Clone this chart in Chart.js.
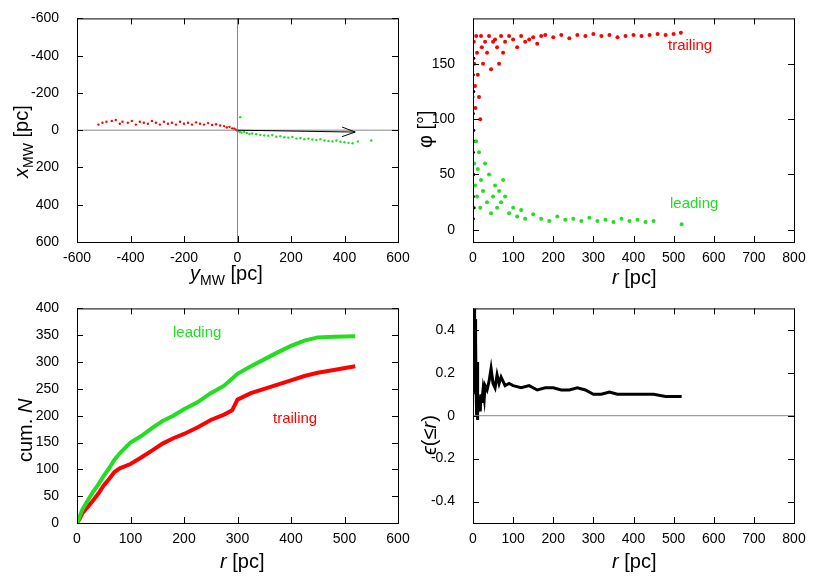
<!DOCTYPE html>
<html><head><meta charset="utf-8">
<script src="https://cdn.jsdelivr.net/npm/chart.js@4/dist/chart.umd.min.js"></script>
<style>
body{margin:0;background:#fff;width:830px;height:581px;position:relative;overflow:hidden;font-family:'Liberation Sans',Arial,sans-serif}
canvas{position:absolute}
.t{position:absolute;font-size:20px;color:#000;white-space:nowrap}
.l{position:absolute;font-size:15px;white-space:nowrap}
.rot{transform:rotate(-90deg);transform-origin:left top}
</style></head><body>
<canvas id="c1" style="left:0;top:0;width:415px;height:290px"></canvas>
<canvas id="c2" style="left:415px;top:0;width:415px;height:290px"></canvas>
<canvas id="c3" style="left:0;top:290px;width:415px;height:291px"></canvas>
<canvas id="c4" style="left:415px;top:290px;width:415px;height:291px"></canvas>
<div class="t" style="left:190px;top:262px"><i>y</i><sub style="font-size:14px">MW</sub> [pc]</div>
<div class="t rot" style="left:10px;top:178px"><i>x</i><sub style="font-size:14px">MW</sub> [pc]</div>
<div class="t" style="left:612px;top:266px"><i>r</i> [pc]</div>
<div class="t rot" style="left:414px;top:148px">φ [°]</div>
<div class="t" style="left:220px;top:550px"><i>r</i> [pc]</div>
<div class="t rot" style="left:14px;top:462px">cum. <i>N</i></div>
<div class="t" style="left:612px;top:550px"><i>r</i> [pc]</div>
<div class="t rot" style="left:418px;top:455px"><i>ϵ</i>(≤<i>r</i>)</div>
<div class="l" style="left:668px;top:36px;color:#ff0000">trailing</div>
<div class="l" style="left:670px;top:194px;color:#22dd22">leading</div>
<div class="l" style="left:173px;top:323px;color:#22dd22">leading</div>
<div class="l" style="left:273px;top:409px;color:#ff0000">trailing</div>
<script>
const RED = '#ff0000', GREEN = '#22dd22', BLACK = '#000000';

// panel 1: x_MW vs y_MW [y_MW, x_MW]
const posTrailing = [[-520,-30],[-505,-40],[-490,-45],[-470,-50],[-455,-55],[-440,-35],[-430,-45],[-410,-40],[-395,-50],[-380,-30],[-365,-45],[-350,-40],[-335,-35],[-320,-50],[-305,-40],[-290,-30],[-275,-45],[-260,-35],[-245,-40],[-230,-30],[-215,-45],[-200,-35],[-185,-40],[-170,-30],[-155,-42],[-140,-35],[-125,-30],[-110,-38],[-95,-28],[-80,-32],[-65,-25],[-50,-22],[-40,-15],[-30,-18],[-20,-10],[-12,-8],[-6,-3],[-3,0]];
const posLeading = [[2,5],[8,10],[15,12],[25,8],[35,15],[45,20],[55,18],[70,22],[85,25],[100,28],[115,30],[130,26],[145,35],[160,32],[175,38],[190,40],[205,36],[220,45],[235,42],[250,48],[265,45],[280,50],[295,52],[310,48],[325,55],[340,58],[355,60],[370,55],[385,62],[400,65],[415,68],[430,70],[450,60],[500,55],[10,-70]];
const arrowEnd = [440, 10];

// panel 2: phi vs r
const phiTrailing = [[2,170],[3,150],[5,130],[6,110],[8,175],[10,160],[12,140],[15,120],[18,100],[20,175],[22,165],[25,150],[30,170],[35,160],[40,175],[45,145],[50,170],[55,172],[60,165],[65,150],[70,175],[75,160],[80,170],[90,175],[100,172],[110,165],[120,175],[130,170],[140,172],[150,174],[160,168],[170,175],[180,176],[200,174],[220,176],[240,173],[260,176],[280,175],[300,177],[320,175],[340,176],[360,174],[380,175],[400,176],[420,175],[440,176],[460,177],[480,176],[500,177],[518,178]];
const phiLeading = [[3,60],[5,40],[8,80],[10,30],[12,55],[15,70],[18,20],[20,45],[25,35],[30,60],[35,25],[40,50],[45,15],[50,30],[55,40],[60,20],[65,35],[70,25],[75,45],[80,30],[90,15],[100,20],[110,12],[120,18],[130,10],[150,14],[170,10],[190,8],[210,12],[230,9],[250,10],[270,8],[290,11],[310,8],[330,9],[350,7],[370,10],[390,8],[410,9],[430,7],[450,8],[520,5]];
const phiCore = [[1,10],[1,30],[2,50],[1,70],[2,90],[1,105],[2,125],[1,140],[2,155],[3,20],[3,80],[0,60],[0,120],[4,40]];

// panel 3: cumulative counts
const cumLeading = [[0,0],[5,12],[10,25],[20,42],[30,58],[40,72],[50,88],[60,102],[70,118],[80,130],[90,140],[100,150],[120,162],[140,177],[160,190],[180,200],[200,212],[225,225],[250,242],[275,256],[300,278],[325,292],[350,305],[375,318],[400,330],[425,340],[450,346],[480,347],[520,348]];
const cumTrailing = [[0,0],[5,8],[10,18],[20,30],[30,42],[40,55],[50,70],[60,82],[70,95],[80,102],[100,110],[120,122],[140,135],[160,148],[180,158],[200,166],[225,178],[250,192],[275,202],[290,210],[300,230],[325,242],[350,250],[375,258],[400,266],[425,274],[450,280],[480,285],[520,292]];

// panel 4: epsilon(<=r)
const epsData = [[2,0.1],[3,0.5],[4,0.3],[5,0.45],[6,0.2],[7,0.35],[8,0.1],[9,0.0],[10,0.25],[11,-0.02],[12,0.1],[14,0.05],[16,0.08],[18,0.02],[20,0.1],[22,0.06],[25,0.12],[28,0.08],[30,0.14],[35,0.12],[40,0.16],[45,0.22],[50,0.15],[55,0.13],[60,0.19],[65,0.15],[70,0.18],[80,0.14],[90,0.15],[100,0.14],[120,0.13],[140,0.14],[160,0.12],[180,0.13],[200,0.13],[220,0.12],[240,0.12],[260,0.13],[280,0.12],[300,0.1],[320,0.1],[340,0.11],[360,0.1],[380,0.1],[400,0.1],[420,0.1],[450,0.1],[480,0.09],[520,0.09]];

const ticksX600 = [-600,-400,-200,0,200,400,600];
const ticksR600 = [0,100,200,300,400,500,600];
const ticksR800 = [0,100,200,300,400,500,600,700,800];
const ticksPhi = [0,50,100,150];
const ticksCum = [0,50,100,150,200,250,300,350,400];
const ticksEps = [-0.4,-0.2,0,0.2,0.4];

const pts = a => a.map(p => ({x: p[0], y: p[1]}));

const frame = {
  id: 'frame',
  afterDraw(ch, args, o) {
    const c = ch.ctx, a = ch.chartArea, sx = ch.scales.x, sy = ch.scales.y;
    c.save();
    c.strokeStyle = '#888'; c.lineWidth = 1;
    (o.zeroX ? [0] : []).forEach(v => { const px = sx.getPixelForValue(v); c.beginPath(); c.moveTo(px, a.top); c.lineTo(px, a.bottom); c.stroke(); });
    (o.zeroY ? [0] : []).forEach(v => { const py = sy.getPixelForValue(v); c.beginPath(); c.moveTo(a.left, py); c.lineTo(a.right, py); c.stroke(); });
    if (o.arrow) {
      const x0 = sx.getPixelForValue(0), y0 = sy.getPixelForValue(0);
      const x1 = sx.getPixelForValue(o.arrow[0]), y1 = sy.getPixelForValue(o.arrow[1]);
      const ang = Math.atan2(y1 - y0, x1 - x0);
      c.strokeStyle = '#000'; c.beginPath(); c.moveTo(x0, y0); c.lineTo(x1, y1);
      c.moveTo(x1 - 14 * Math.cos(ang - 0.35), y1 - 14 * Math.sin(ang - 0.35)); c.lineTo(x1, y1);
      c.lineTo(x1 - 14 * Math.cos(ang + 0.35), y1 - 14 * Math.sin(ang + 0.35)); c.stroke();
    }
    c.strokeStyle = '#000'; c.lineWidth = 1;
    c.strokeRect(a.left + 0.5, a.top + 0.5, a.right - a.left, a.bottom - a.top);
    c.beginPath();
    sx.ticks.forEach(t => { const px = Math.round(sx.getPixelForValue(t.value)) + 0.5; c.moveTo(px, a.bottom); c.lineTo(px, a.bottom - 6); c.moveTo(px, a.top); c.lineTo(px, a.top + 6); });
    sy.ticks.forEach(t => { const py = Math.round(sy.getPixelForValue(t.value)) + 0.5; c.moveTo(a.left, py); c.lineTo(a.left + 6, py); c.moveTo(a.right, py); c.lineTo(a.right - 6, py); });
    c.stroke();
    c.restore();
  }
};

function axis(min, max, ticks, fit, pad, extra) {
  return Object.assign({
    type: 'linear', min, max,
    grid: { display: false }, border: { display: false },
    afterBuildTicks: s => { s.ticks = ticks.map(v => ({ value: v })); },
    ticks: { color: '#000', font: { size: 14, family: "'Liberation Sans', Arial, sans-serif" }, padding: pad, maxRotation: 0, autoSkip: false },
    afterFit: fit
  }, extra || {});
}

function make(id, datasets, xs, ys, pad, frameOpts) {
  new Chart(document.getElementById(id), {
    type: 'scatter',
    data: { datasets },
    options: {
      responsive: false, animation: false, devicePixelRatio: 1,
      layout: { padding: pad },
      plugins: { legend: { display: false }, tooltip: { enabled: false }, frame: frameOpts },
      scales: { x: xs, y: ys }
    },
    plugins: [frame]
  });
}

function sizeCanvas(id, w, h) { const c = document.getElementById(id); c.width = w; c.height = h; }
sizeCanvas('c1', 415, 290); sizeCanvas('c2', 415, 290); sizeCanvas('c3', 415, 291); sizeCanvas('c4', 415, 291);

const dot = (data, color, r) => ({ data: pts(data), backgroundColor: color, borderColor: color, pointRadius: r, pointBorderWidth: 0 });

make('c1',
  [dot(posTrailing, RED, 1.2), dot(posLeading, GREEN, 1.2)],
  axis(-600, 600, ticksX600, s => { s.height = 48; }, 0),
  axis(-600, 600, ticksX600, s => { s.width = 77; }, 10, { reverse: true }),
  { top: 8, right: 17, left: 0, bottom: 0 },
  { zeroX: true, zeroY: true, arrow: arrowEnd });

make('c2',
  [dot(phiTrailing, RED, 2), dot(phiLeading, GREEN, 2), dot(phiCore, BLACK, 1.5)],
  axis(0, 800, ticksR800, s => { s.height = 48; }, 0),
  axis(-11, 191, ticksPhi, s => { s.width = 58; }, 10),
  { top: 8, right: 36, left: 0, bottom: 0 },
  {});

const curve = (data, color) => ({ data: pts(data), showLine: true, borderColor: color, backgroundColor: color, borderWidth: 4, pointRadius: 0 });

make('c3',
  [curve(cumLeading, GREEN), curve(cumTrailing, RED)],
  axis(0, 600, ticksR600, s => { s.height = 58; }, 0),
  axis(0, 400, ticksCum, s => { s.width = 77; }, 10),
  { top: 8, right: 17, left: 0, bottom: 0 },
  {});

make('c4',
  [{ data: pts(epsData), showLine: true, borderColor: BLACK, backgroundColor: BLACK, borderWidth: 3, pointRadius: 0 }],
  axis(0, 800, ticksR800, s => { s.height = 58; }, 0),
  axis(-0.5, 0.5, ticksEps, s => { s.width = 58; }, 10),
  { top: 8, right: 36, left: 0, bottom: 0 },
  { zeroY: true });
</script>
</body></html>
